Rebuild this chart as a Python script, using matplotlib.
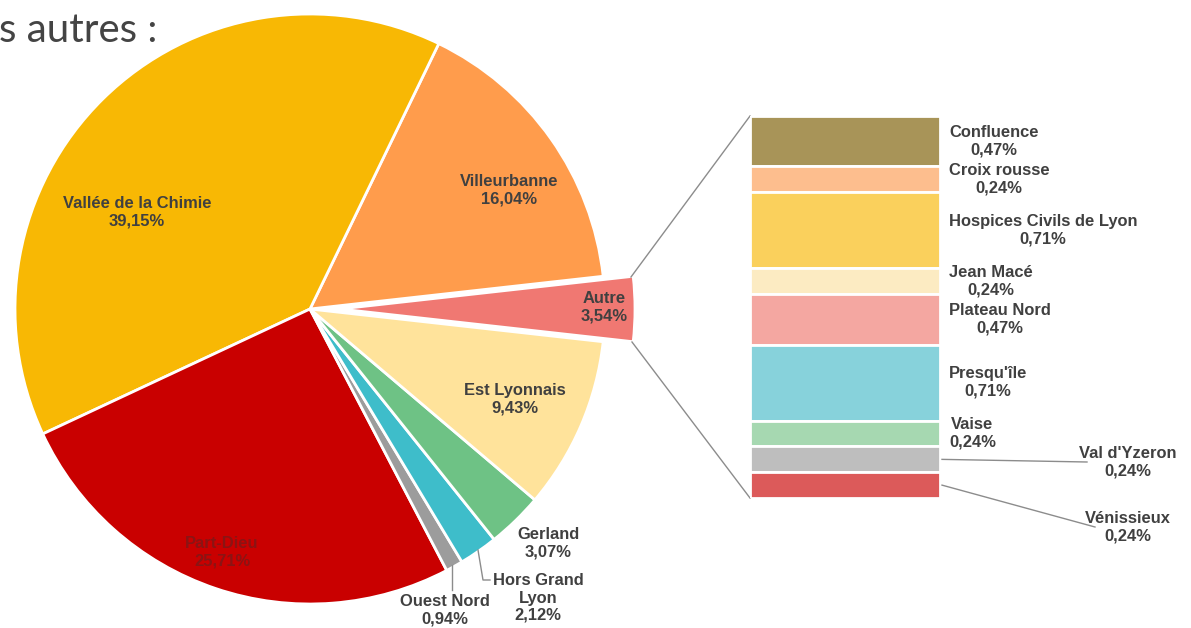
import numpy as np
import matplotlib.pyplot as plt

# pie data (counterclockwise, starting from "Autre")
secteurs = ["Autre", "Villeurbanne", "Vallée de la Chimie", "Part-Dieu",
            "Ouest Nord", "Hors Grand Lyon", "Gerland", "Est Lyonnais"]
parts = [3.54, 16.04, 39.15, 25.71, 0.94, 2.12, 3.07, 9.43]
couleurs = ["#F07872", "#FF9C4C", "#F8B804", "#C90000",
            "#9C9C9C", "#3EBDCA", "#6EC285", "#FFE39B"]

# detail of "Autre"
autres = ["Confluence", "Croix rousse", "Hospices Civils de Lyon", "Jean Macé",
          "Plateau Nord", "Presqu'île", "Vaise", "Val d'Yzeron", "Vénissieux"]
parts_autres = [0.47, 0.24, 0.71, 0.24, 0.47, 0.71, 0.24, 0.24, 0.24]
couleurs_autres = ["#A89458", "#FDBE8E", "#FAD05C", "#FCEBC2", "#F4A7A1",
                   "#87D2DB", "#A6D8B1", "#BEBEBE", "#DC5A5A"]

def fmt(v):
    return f"{v:.2f}".replace(".", ",") + "%"

W, H = 1191, 628
fig = plt.figure(figsize=(W / 100, H / 100), dpi=100)
ax = fig.add_axes([0, 0, 1, 1])
ax.set_xlim(0, W)
ax.set_ylim(0, H)
ax.set_aspect("equal")
ax.axis("off")

cx, cy, r = 310, H - 309, 295
debut = -parts[0] / 100 * 360 / 2
explode = [30] + [0] * (len(parts) - 1)   # offset in pixels
wedges, _ = ax.pie(parts, colors=couleurs, startangle=debut, explode=explode,
                   center=(cx, cy), radius=r, counterclock=True,
                   wedgeprops=dict(edgecolor="white", linewidth=2))
ax.set_xlim(0, W)
ax.set_ylim(0, H)

police = dict(family=["Liberation Sans", "DejaVu Sans"], fontweight="bold",
              fontsize=11.9, color="#404040", linespacing=1.2,
              ha="center", va="center", multialignment="center")

# label positions (pixels, y from top)
pos_labels = {
    "Autre": (604, 307),
    "Villeurbanne": (509, 190),
    "Vallée de la Chimie": (137, 212),
    "Part-Dieu": (222, 552),
    "Ouest Nord": (445, 610),
    "Hors Grand Lyon": (538, 598),
    "Gerland": (548, 543),
    "Est Lyonnais": (515, 399),
}
for nom, v in zip(secteurs, parts):
    x, y = pos_labels[nom]
    txt = nom.replace("Hors Grand Lyon", "Hors Grand\nLyon") + "\n" + fmt(v)
    kw = dict(police)
    if nom == "Part-Dieu":
        kw["color"] = "#8A1414"
    ax.text(x, H - y, txt, **kw)

gris = "#8C8C8C"
# leader lines for small slices
ax.plot([452, 452], [H - 565, H - 590], color=gris, lw=1)
ax.plot([478, 483, 490], [H - 550, H - 580, H - 580], color=gris, lw=1)

# bar of "Autre"
x0, x1, ytop, ybot = 750, 940, 116, 498
bax = fig.add_axes([x0 / W, (H - ybot) / H, (x1 - x0) / W, (ybot - ytop) / H])
total = sum(parts_autres)
bas = np.concatenate([[0], np.cumsum(parts_autres)[:-1]])
bax.bar(0, parts_autres, bottom=bas, width=1, color=couleurs_autres,
        edgecolor="white", linewidth=2)
bax.set_xlim(-0.5, 0.5)
bax.set_ylim(total, 0)
bax.axis("off")

# connector lines pie -> bar
ax.plot([631, x0], [H - 277, H - ytop], color=gris, lw=1)
ax.plot([632, x0], [H - 342, H - ybot], color=gris, lw=1)

# bar labels
centres = bas + np.array(parts_autres) / 2
px = (ybot - ytop) / total
for nom, v, c in zip(autres, parts_autres, centres):
    y = ytop + c * px
    txt = nom + "\n" + fmt(v)
    kw = dict(police)
    if nom == "Val d'Yzeron":
        ax.plot([942, 1087], [H - y, H - 462], color=gris, lw=1)
        ax.text(1128, H - 462, txt, **kw)
    elif nom == "Vénissieux":
        ax.plot([942, 1095], [H - y, H - 527], color=gris, lw=1)
        ax.text(1128, H - 527, txt, **kw)
    else:
        kw["ha"] = "left"
        ax.text(949, H - y, txt, **kw)

# title (cropped in the source)
fig.text(-1 / W, 1 - 30 / H, "s autres :", family=["Lato", "DejaVu Sans"],
         fontsize=29, color="#444444", va="center", ha="left")

fig.savefig("out.png", dpi=100)
